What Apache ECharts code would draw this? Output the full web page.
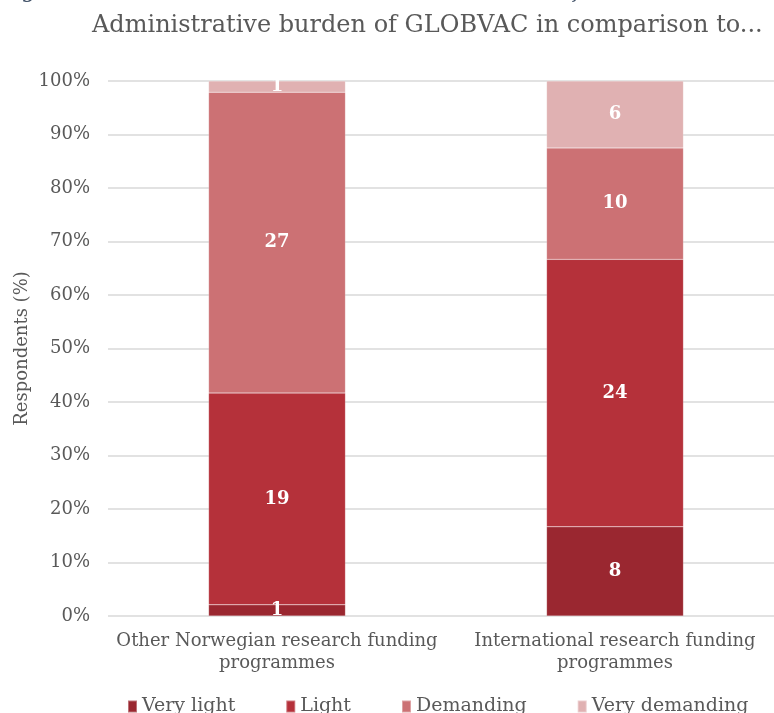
<!DOCTYPE html>
<html>
<head>
<meta charset="utf-8">
<script src="https://cdn.jsdelivr.net/npm/echarts@6/dist/echarts.min.js"></script>
<style>
html,body{margin:0;padding:0;background:#fff;}
#chart{width:774px;height:713px;}
</style>
</head>
<body>
<div id="chart"></div>
<script>
const categories = ['Other Norwegian research funding\nprogrammes', 'International research funding\nprogrammes'];
const seriesNames = ['Very light', 'Light', 'Demanding', 'Very demanding'];
const veryLight = [1, 8];
const light = [19, 24];
const demanding = [27, 10];
const veryDemanding = [1, 6];
const yTicks = ['0%','10%','20%','30%','40%','50%','60%','70%','80%','90%','100%'];
const colors = ['#9a2730', '#b5313a', '#cc7174', '#e0b1b2'];

const counts = [veryLight, light, demanding, veryDemanding];
const totals = categories.map((c, i) => counts.reduce((s, arr) => s + arr[i], 0));

const serif = '"DejaVu Serif", "Liberation Serif", serif';
const chart = echarts.init(document.getElementById('chart'));
chart.setOption({
  animation: false,
  graphic: [
    { type: 'text', left: 92, top: 14, style: { text: 'Administrative burden of GLOBVAC in comparison to...', font: '24px ' + serif, fill: '#595959' } },
    { type: 'text', left: 0, top: -20, style: { text: 'Figure 7 Perceived related administrative burden of GLOBVAC. Source: Survey', font: 'italic 22px ' + serif, fill: '#44546a' } }
  ],
  grid: { left: 108, width: 676, top: 81, bottom: 97, containLabel: false, outerBoundsMode: 'none' },
  legend: {
    bottom: -8, left: 122,
    itemWidth: 9, itemHeight: 12, itemGap: 50,
    icon: 'rect',
    textStyle: { fontFamily: serif, fontSize: 19, color: '#595959' },
    data: seriesNames
  },
  xAxis: {
    type: 'category', data: categories,
    axisLine: { show: false }, axisTick: { show: false },
    axisLabel: { fontFamily: serif, fontSize: 18, color: '#595959', lineHeight: 22, margin: 14, interval: 0 }
  },
  yAxis: {
    type: 'value', min: 0, max: 100, interval: 10,
    name: 'Respondents (%)', nameLocation: 'middle', nameGap: 77, nameMoveOverlap: false,
    nameTextStyle: { fontFamily: serif, fontSize: 18, color: '#595959' },
    axisLine: { show: false }, axisTick: { show: false },
    axisLabel: { fontFamily: serif, fontSize: 18, color: '#595959', margin: 18, formatter: v => yTicks[Math.round(v / 10)] },
    splitLine: { lineStyle: { color: '#d9d9d9', width: 1.5 } }
  },
  series: seriesNames.map((name, si) => ({
    name, type: 'bar', stack: 'total', barWidth: '40.5%',
    itemStyle: { color: colors[si], borderColor: 'rgba(255,255,255,0.35)', borderWidth: 0.5 },
    label: {
      show: true, position: 'inside', color: '#ffffff', fontFamily: serif, fontWeight: 'bold', fontSize: 18,
      formatter: p => counts[si][p.dataIndex]
    },
    data: counts[si].map((v, i) => v / totals[i] * 100)
  }))
});
</script>
</body>
</html>
